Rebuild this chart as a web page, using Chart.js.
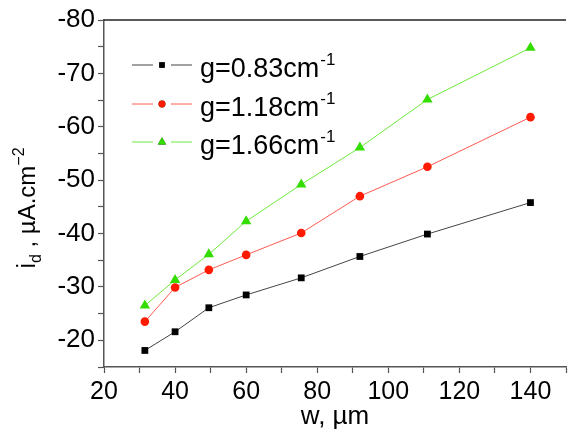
<!DOCTYPE html>
<html>
<head>
<meta charset="utf-8">
<script src="https://cdn.jsdelivr.net/npm/chart.js@4/dist/chart.umd.min.js"></script>
<style>
  html, body { margin: 0; padding: 0; background: #fff; }
  #wrap { width: 568px; height: 440px; overflow: hidden; }
  #box { width: 572px; height: 440px; }
</style>
</head>
<body>
<div id="wrap"><div id="box"><canvas id="chart"></canvas></div></div>
<script>
// values
const widths = [31.5, 40, 49.5, 60, 75.5, 92, 111, 140];
const g083 = [-18.1, -21.6, -26.1, -28.5, -31.7, -35.7, -39.9, -45.8];
const g118 = [-23.5, -29.9, -33.2, -36.0, -40.1, -47.0, -52.5, -61.8];
const g166 = [-26.5, -31.3, -36.1, -42.3, -49.2, -56.1, -65.1, -74.8];
const seriesNames = ["g=0.83cm", "g=1.18cm", "g=1.66cm"];

const FONT = "'Liberation Sans', Arial, sans-serif";
const axisColor = "#555";

function pts(ys) {
  return ys.map((y, i) => ({ x: widths[i], y: y }));
}

// legend, axis titles and top frame line (they need sub/superscripts)
const extras = {
  id: "extras",
  afterDraw(chart) {
    const c = chart.ctx;
    const a = chart.chartArea;
    c.save();

    // top frame line
    c.strokeStyle = "#222";
    c.lineWidth = 1.5;
    c.beginPath();
    c.moveTo(a.left, a.top);
    c.lineTo(a.right, a.top);
    c.stroke();

    // legend
    const rowY = [65, 104, 142];
    chart.data.datasets.forEach((ds, i) => {
      const y = rowY[i];
      c.strokeStyle = ds.borderColor;
      c.lineWidth = 1;
      c.beginPath();
      c.moveTo(132, y); c.lineTo(153, y);
      c.moveTo(171, y); c.lineTo(192, y);
      c.stroke();
      Chart.helpers.drawPoint(c, {
        pointStyle: ds.pointStyle,
        radius: ds.pointRadius * 0.8,
        borderWidth: 0
      }, 162, y);
      c.fillStyle = ds.pointBackgroundColor;
      c.fill();
      c.fillStyle = "#000";
      c.textBaseline = "alphabetic";
      c.textAlign = "left";
      c.font = "27px " + FONT;
      c.fillText(seriesNames[i], 200, y + 12);
      const w = c.measureText(seriesNames[i]).width;
      c.font = "17px " + FONT;
      c.fillText("-1", 200 + w + 1, y);
    });

    // x title
    c.fillStyle = "#000";
    c.font = "26px " + FONT;
    c.textAlign = "center";
    c.fillText("w, \u00b5m", (a.left + a.right) / 2, 424);

    // y title, rotated, with subscript d and superscript -2
    c.translate(35, 208);
    c.rotate(-Math.PI / 2);
    const parts = [
      { t: "i", f: 25, dy: 0 },
      { t: "d", f: 16, dy: 6 },
      { t: " , \u00b5A.cm", f: 24, dy: 0 },
      { t: "\u22122", f: 16, dy: -11 }
    ];
    let total = 0;
    parts.forEach(p => { c.font = p.f + "px " + FONT; p.w = c.measureText(p.t).width; total += p.w; });
    let x = -total / 2;
    c.textAlign = "left";
    parts.forEach(p => {
      c.font = p.f + "px " + FONT;
      c.fillText(p.t, x, p.dy);
      x += p.w;
    });
    c.restore();
  }
};

new Chart(document.getElementById("chart"), {
  type: "line",
  data: {
    datasets: [
      {
        data: pts(g083),
        borderColor: "#444",
        borderWidth: 1,
        pointStyle: "rect",
        pointRadius: 4.8,
        pointBackgroundColor: "#000",
        pointBorderWidth: 0
      },
      {
        data: pts(g118),
        borderColor: "#ff5a50",
        borderWidth: 1,
        pointStyle: "circle",
        pointRadius: 4.3,
        pointBackgroundColor: "#ff1a00",
        pointBorderWidth: 0
      },
      {
        data: pts(g166),
        borderColor: "#6ee83a",
        borderWidth: 1,
        pointStyle: "triangle",
        pointRadius: 6,
        pointBackgroundColor: "#33dd00",
        pointBorderWidth: 0
      }
    ]
  },
  options: {
    responsive: true,
    maintainAspectRatio: false,
    animation: false,
    events: [],
    layout: { padding: { top: 20, right: 1, left: 0, bottom: 0 } },
    plugins: { legend: { display: false }, tooltip: { enabled: false } },
    scales: {
      x: {
        type: "linear",
        min: 20,
        max: 150,
        afterFit(scale) { scale.height = 73; },
        border: { color: axisColor, width: 1.5 },
        grid: { drawOnChartArea: false, tickLength: 6, tickColor: axisColor, tickWidth: 1.2 },
        ticks: {
          stepSize: 10,
          padding: 4,
          maxRotation: 0,
          autoSkip: false,
          color: "#000",
          font: { family: FONT, size: 25 },
          callback: v => (v % 20 === 0 && v < 150 ? String(v) : "")
        }
      },
      y: {
        type: "linear",
        min: -80,
        max: -15,
        reverse: true,
        afterFit(scale) { scale.width = 104; },
        border: { color: axisColor, width: 1.5 },
        grid: { drawOnChartArea: false, tickLength: 6, tickColor: axisColor, tickWidth: 1.2 },
        ticks: {
          stepSize: 5,
          padding: 3,
          autoSkip: false,
          color: "#000",
          font: { family: FONT, size: 26 },
          callback: v => (v % 10 === 0 ? String(v) : "")
        }
      }
    }
  },
  plugins: [extras]
});
</script>
</body>
</html>
